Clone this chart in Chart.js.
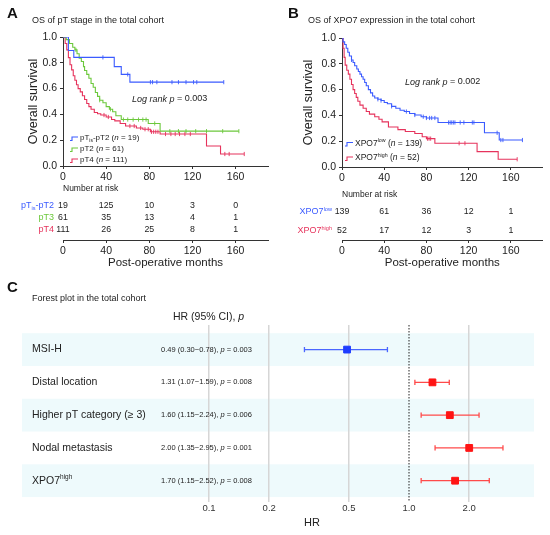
<!DOCTYPE html>
<html>
<head>
<meta charset="utf-8">
<script src="https://cdn.jsdelivr.net/npm/chart.js@4.4.0/dist/chart.umd.min.js"></script>
<style>
  body { margin: 0; background: #fff; }
  #wrap { position: relative; width: 550px; height: 535px; overflow: hidden; }
  canvas { position: absolute; }
  #chartA { left: 0; top: 0; }
  #chartB { left: 275px; top: 0; }
  #chartC { left: 0; top: 270px; }
</style>
</head>
<body>
<div id="wrap">
  <canvas id="chartC" width="550" height="265"></canvas>
  <canvas id="chartA" width="275" height="272"></canvas>
  <canvas id="chartB" width="275" height="272"></canvas>
</div>
<script>
// ---- shared ticks ----
const monthTicks = [0, 40, 80, 120, 160];
const survTicks = [0, 0.2, 0.4, 0.6, 0.8, 1.0];

// ---- panel A: OS by pT stage (event times in months / survival after the drop) ----
const pt12Times = [0, 5, 10, 47.5, 54, 62];
const pt12Surv = [1, 0.895, 0.842, 0.77, 0.71, 0.65];
const pt12End = 149;
const pt12Censor = [37, 60, 81, 83, 87, 101, 107, 114, 121, 124, 149];

const pt3Times = [0, 3, 6, 9, 11, 13, 15, 17, 19, 20, 22, 24, 26, 28, 30, 32, 34, 37, 40, 43, 46, 49, 54, 79, 90];
const pt3Surv = [1, 0.98, 0.95, 0.92, 0.9, 0.87, 0.835, 0.81, 0.77, 0.74, 0.71, 0.68, 0.64, 0.61, 0.57, 0.54, 0.51, 0.49, 0.46, 0.44, 0.42, 0.39, 0.36, 0.33, 0.27];
const pt3End = 163;
const pt3Censor = [12, 34, 44, 56, 60, 65, 70, 74, 77, 85, 99, 107, 114, 123, 133, 148, 163];

const pt4Times = [0, 2, 3.5, 5, 6.5, 8, 9.5, 11, 12.5, 14, 16, 18, 20, 22, 24, 26, 29, 32, 35, 40, 45, 48, 53, 58, 68, 74, 81, 90, 133, 146];
const pt4Surv = [1, 0.95, 0.9, 0.84, 0.785, 0.745, 0.7, 0.665, 0.63, 0.6, 0.575, 0.545, 0.515, 0.485, 0.46, 0.44, 0.415, 0.405, 0.395, 0.38, 0.36, 0.35, 0.33, 0.31, 0.295, 0.285, 0.265, 0.248, 0.155, 0.093];
const pt4End = 168;
const pt4Censor = [38, 42, 62, 66, 72, 76, 79, 82, 84, 86, 88, 95, 100, 104, 108, 113, 118, 150, 154, 168];

const stageN = [19, 61, 111];
const stageRisk = [[19, 125, 10, 3, 0], [61, 35, 13, 4, 1], [111, 26, 25, 8, 1]];

// ---- panel B: OS by XPO7 expression ----
const lowTimes = [0, 1, 2.5, 4, 5.5, 7, 9, 10.5, 12, 14, 15.5, 17, 18.5, 20, 21.5, 23, 25, 27, 29, 31, 34, 37, 40, 43, 47, 51, 55, 59, 64, 69, 75, 80, 91, 135, 149];
const lowSurv = [1, 0.97, 0.95, 0.92, 0.89, 0.86, 0.83, 0.81, 0.785, 0.76, 0.74, 0.72, 0.7, 0.68, 0.655, 0.63, 0.6, 0.575, 0.55, 0.535, 0.525, 0.515, 0.5, 0.49, 0.47, 0.455, 0.44, 0.43, 0.415, 0.403, 0.39, 0.38, 0.345, 0.265, 0.209];
const lowEnd = 171;
const lowCensor = [9, 34, 37, 47, 61, 69, 77, 80, 83, 85, 88, 101, 102.5, 104, 105.5, 107, 112, 115.5, 123.5, 125, 147, 150.5, 152.5, 171];

const highTimes = [0, 1, 2, 3, 4.5, 6, 7.5, 9, 10.5, 12, 13.5, 15, 17, 20, 23, 26, 31, 35, 38, 44, 53, 60, 69, 76, 80, 88, 128, 148];
const highSurv = [1, 0.92, 0.85, 0.79, 0.75, 0.72, 0.68, 0.64, 0.6, 0.57, 0.54, 0.51, 0.48, 0.455, 0.43, 0.41, 0.39, 0.37, 0.35, 0.31, 0.29, 0.275, 0.26, 0.235, 0.22, 0.184, 0.119, 0.06];
const highEnd = 166;
const highCensor = [81, 82.5, 84, 111, 116.5, 166];

const xpoN = [139, 52];
const xpoRisk = [[139, 61, 36, 12, 1], [52, 17, 12, 3, 1]];

// ---- panel C: forest plot ----
const factorNames = ['MSI-H', 'Distal location', 'Higher pT category (\u2265 3)', 'Nodal metastasis', 'XPO7'];
const hrValues = [0.49, 1.31, 1.60, 2.00, 1.70];
const hrLow = [0.30, 1.07, 1.15, 1.35, 1.15];
const hrHigh = [0.78, 1.59, 2.24, 2.95, 2.52];
const hrP = ['0.003', '0.008', '0.006', '0.001', '0.008'];
const hrTicks = [0.1, 0.2, 0.5, 1.0, 2.0];
const hrTickLabels = ['0.1', '0.2', '0.5', '1.0', '2.0'];

const FONT = "'Liberation Sans', Arial, Helvetica, sans-serif";
const INK = '#222';
const blue = '#3b5bff', green = '#6cc83c', crimson = '#e6335c';
Chart.defaults.font.family = FONT;
Chart.defaults.color = INK;

// text with italic / sub / superscript runs
const rich = (ctx, runs, x, y, size, align, color) => {
  const fontFor = k => {
    const s = (k === 'sub' || k === 'sup') ? size * 0.62 : size;
    return (k === 'i' ? 'italic ' : '') + s + 'px ' + FONT;
  };
  let w = 0;
  runs.forEach(([t, k]) => { ctx.font = fontFor(k); w += ctx.measureText(t).width; });
  let cx = align === 'right' ? x - w : align === 'center' ? x - w / 2 : x;
  ctx.fillStyle = color;
  ctx.textBaseline = 'middle';
  ctx.textAlign = 'left';
  runs.forEach(([t, k]) => {
    ctx.font = fontFor(k);
    const dy = k === 'sub' ? size * 0.32 : k === 'sup' ? -size * 0.32 : 0;
    ctx.fillText(t, cx, y + dy);
    cx += ctx.measureText(t).width;
  });
};

const stepData = (times, surv, end) => {
  const pts = times.map((t, i) => ({ x: t, y: surv[i] }));
  pts.push({ x: end, y: surv[surv.length - 1] });
  return pts;
};

// survival value of the curve at a censoring time
const survAt = (times, surv, t) => {
  let s = surv[0];
  times.forEach((tt, i) => { if (tt <= t) s = surv[i]; });
  return s;
};

const kmDatasets = groups => {
  const ds = [];
  groups.forEach(g => {
    ds.push({
      data: stepData(g.times, g.surv, g.end),
      borderColor: g.color, borderWidth: 1.1, stepped: true,
      pointRadius: 0, fill: false
    });
    ds.push({
      data: g.censor.map(t => ({ x: t, y: survAt(g.times, g.surv, t) })),
      showLine: false, pointStyle: 'line', pointRotation: 90, pointRadius: 2.1,
      pointBorderColor: g.color, pointBorderWidth: 0.9, pointBackgroundColor: g.color
    });
  });
  return ds;
};

const kmText = o => ({
  id: 'kmText',
  afterDraw(chart) {
    const ctx = chart.ctx;
    const xs = chart.scales.x;
    ctx.save();
    ctx.font = 'bold 15px ' + FONT;
    ctx.fillStyle = '#111';
    ctx.textBaseline = 'middle';
    ctx.fillText(o.letter, o.letterX, 13.5);
    rich(ctx, [[o.title, '']], o.titleX, 21, 9, 'left', INK);
    rich(ctx, [['Log rank p', 'i'], [' = ' + o.pValue, '']], o.logX, o.logY, 9, 'left', INK);

    o.groups.forEach((g, i) => {
      const y = o.legendY[i];
      const x0 = o.legendX;
      ctx.strokeStyle = g.color;
      ctx.lineWidth = 1.1;
      ctx.beginPath();
      ctx.moveTo(x0, y + 2.5);
      ctx.lineTo(x0 + 2, y + 2.5);
      ctx.lineTo(x0 + 2, y - 1);
      ctx.lineTo(x0 + 8, y - 1);
      ctx.stroke();
      rich(ctx, g.legend, x0 + 10, y, o.legendSize, 'left', INK);
    });

    rich(ctx, [['Number at risk', '']], xs.getPixelForValue(0), o.riskHeadY, 8.5, 'left', INK);
    o.groups.forEach((g, i) => {
      const y = o.riskY[i];
      rich(ctx, g.riskLabel, o.riskLabelRight, y, 9, 'right', g.color);
      monthTicks.forEach((m, j) => {
        rich(ctx, [[String(g.risk[j]), '']], xs.getPixelForValue(m), y, 8.8, 'center', INK);
      });
    });
    ctx.restore();
  }
});

const kmChart = (id, o) => new Chart(document.getElementById(id), {
  type: 'line',
  data: { datasets: kmDatasets(o.groups) },
  options: {
    responsive: false,
    animation: false,
    layout: { padding: { top: o.top, right: o.right, bottom: 2, left: 0 } },
    plugins: { legend: { display: false }, tooltip: { enabled: false } },
    scales: {
      x: {
        type: 'linear', min: 0, max: 190, position: 'bottom',
        afterBuildTicks: s => { s.ticks = monthTicks.map(v => ({ value: v })); },
        afterFit: s => { s.height = o.xGap; },
        ticks: { font: { size: 10.5 }, color: INK, padding: 2, maxRotation: 0 },
        grid: { drawOnChartArea: false, tickLength: 3, color: '#333' },
        border: { color: '#333', width: 1 }
      },
      x2: {
        type: 'linear', min: 0, max: 190, position: 'bottom', weight: 1,
        afterBuildTicks: s => { s.ticks = monthTicks.map(v => ({ value: v })); },
        afterFit: s => { s.height = 30; },
        ticks: { font: { size: 10.5 }, color: INK, padding: 2, maxRotation: 0 },
        grid: { drawOnChartArea: false, tickLength: 3, color: '#333' },
        border: { color: '#333', width: 1 },
        title: { display: true, text: 'Post-operative months', font: { size: 11.5 }, color: INK, padding: { top: 0, bottom: 0 } }
      },
      y: {
        type: 'linear', min: 0, max: 1,
        afterBuildTicks: s => { s.ticks = survTicks.map(v => ({ value: v })); },
        afterFit: s => { s.width = o.left; },
        ticks: { font: { size: 10.5 }, color: INK, padding: 3, callback: v => v.toFixed(1) },
        grid: { drawOnChartArea: false, tickLength: 3, color: '#333' },
        border: { color: '#333', width: 1 },
        title: { display: true, text: 'Overall survival', font: { size: 12.5 }, color: INK, padding: { top: 26, bottom: 0 } }
      }
    }
  },
  plugins: [kmText(o)]
});

kmChart('chartA', {
  top: 37, right: 7, left: 63, xGap: 74,
  letter: 'A', letterX: 7, titleX: 32,
  title: 'OS of pT stage in the total cohort',
  pValue: '0.003', logX: 132, logY: 99,
  legendX: 70, legendY: [138, 149, 160], legendSize: 8,
  riskHeadY: 189, riskY: [206, 218, 230], riskLabelRight: 54,
  groups: [
    { times: pt12Times, surv: pt12Surv, end: pt12End, censor: pt12Censor, color: blue, risk: stageRisk[0],
      legend: [['pT', ''], ['is', 'sub'], ['-pT2 (', ''], ['n', 'i'], [' = ' + stageN[0] + ')', '']],
      riskLabel: [['pT', ''], ['is', 'sub'], ['-pT2', '']] },
    { times: pt3Times, surv: pt3Surv, end: pt3End, censor: pt3Censor, color: green, risk: stageRisk[1],
      legend: [['pT2 (', ''], ['n', 'i'], [' = ' + stageN[1] + ')', '']],
      riskLabel: [['pT3', '']] },
    { times: pt4Times, surv: pt4Surv, end: pt4End, censor: pt4Censor, color: crimson, risk: stageRisk[2],
      legend: [['pT4 (', ''], ['n', 'i'], [' = ' + stageN[2] + ')', '']],
      riskLabel: [['pT4', '']] }
  ]
});

kmChart('chartB', {
  top: 38, right: 7.5, left: 67, xGap: 73,
  letter: 'B', letterX: 13, titleX: 33,
  title: 'OS of XPO7 expression in the total cohort',
  pValue: '0.002', logX: 130, logY: 82,
  legendX: 70, legendY: [143.5, 158], legendSize: 8.5,
  riskHeadY: 195, riskY: [212, 231], riskLabelRight: 57,
  groups: [
    { times: lowTimes, surv: lowSurv, end: lowEnd, censor: lowCensor, color: blue, risk: xpoRisk[0],
      legend: [['XPO7', ''], ['low', 'sup'], [' (', ''], ['n', 'i'], [' = ' + xpoN[0] + ')', '']],
      riskLabel: [['XPO7', ''], ['low', 'sup']] },
    { times: highTimes, surv: highSurv, end: highEnd, censor: highCensor, color: crimson, risk: xpoRisk[1],
      legend: [['XPO7', ''], ['high', 'sup'], [' (', ''], ['n', 'i'], [' = ' + xpoN[1] + ')', '']],
      riskLabel: [['XPO7', ''], ['high', 'sup']] }
  ]
});

// ---- forest plot ----
const rowColor = i => hrValues[i] < 1 ? '#1f3dff' : '#ff1414';
const barColor = i => hrValues[i] < 1 ? '#4a66ff' : '#ff4a4a';

const ciSets = factorNames.map((n, i) => ({
  data: [{ x: hrLow[i], y: i }, { x: hrHigh[i], y: i }],
  borderColor: barColor(i), borderWidth: 1.3,
  pointStyle: 'line', pointRotation: 90, pointRadius: 2.6,
  pointBorderColor: barColor(i), pointBorderWidth: 1.3
}));

const markerSet = {
  data: hrValues.map((v, i) => ({ x: v, y: i })),
  showLine: false, pointStyle: 'rect', pointRadius: 4.8,
  pointBackgroundColor: hrValues.map((v, i) => rowColor(i)),
  pointBorderColor: hrValues.map((v, i) => rowColor(i)),
  pointBorderWidth: 1
};

const refSet = {
  data: [{ x: 1, y: -0.75 }, { x: 1, y: 4.65 }],
  borderColor: '#222', borderWidth: 1, borderDash: [1.5, 1.5], pointRadius: 0
};

const forestText = {
  id: 'forestText',
  beforeDraw(chart) {
    const { ctx, chartArea, scales: { y } } = chart;
    ctx.save();
    ctx.fillStyle = '#eefafc';
    factorNames.forEach((n, i) => {
      if (i % 2 === 0) {
        const t = y.getPixelForValue(i - 0.5), b = y.getPixelForValue(i + 0.5);
        ctx.fillRect(chartArea.left, t, chartArea.right - chartArea.left, b - t);
      }
    });
    ctx.restore();
  },
  afterDraw(chart) {
    const { ctx, scales: { y } } = chart;
    ctx.save();
    ctx.font = 'bold 15px ' + FONT;
    ctx.fillStyle = '#111';
    ctx.textBaseline = 'middle';
    ctx.fillText('C', 7, 18);
    rich(ctx, [['Forest plot in the total cohort', '']], 32, 29, 9, 'left', INK);
    rich(ctx, [['HR (95% CI), ', ''], ['p', 'i']], 173, 47, 10.5, 'left', INK);
    factorNames.forEach((n, i) => {
      const yy = y.getPixelForValue(i);
      const label = i === factorNames.length - 1 ? [[n, ''], ['high', 'sup']] : [[n, '']];
      rich(ctx, label, 32, yy, 10.5, 'left', INK);
      rich(ctx, [[hrValues[i].toFixed(2) + ' (' + hrLow[i].toFixed(2) + '\u2212' + hrHigh[i].toFixed(2) + '), ', ''], ['p', 'i'], [' = ' + hrP[i], '']],
        161, yy, 7.5, 'left', INK);
    });
    rich(ctx, [['HR', '']], 312, 253, 11, 'center', INK);
    ctx.restore();
  }
};

new Chart(document.getElementById('chartC'), {
  type: 'line',
  data: { datasets: [refSet, markerSet, ...ciSets] },
  options: {
    responsive: false,
    animation: false,
    layout: { padding: { left: 22, right: 16, top: 55, bottom: 13 } },
    plugins: { legend: { display: false }, tooltip: { enabled: false } },
    scales: {
      x: {
        type: 'logarithmic', min: 0.01161, max: 4.217,
        afterBuildTicks: s => { s.ticks = hrTicks.map(v => ({ value: v })); },
        afterFit: s => { s.height = 20; },
        ticks: { callback: (v, i) => hrTickLabels[i], font: { size: 9.5 }, color: '#333', padding: 1, autoSkip: false, maxRotation: 0 },
        grid: { drawTicks: false, lineWidth: 1.5, color: c => (c.tick && c.tick.value === 1) ? 'rgba(0,0,0,0)' : '#d6d6d6' },
        border: { display: false }
      },
      y: { type: 'linear', reverse: true, min: -0.75, max: 4.65, display: false }
    }
  },
  plugins: [forestText]
});
</script>
</body>
</html>
